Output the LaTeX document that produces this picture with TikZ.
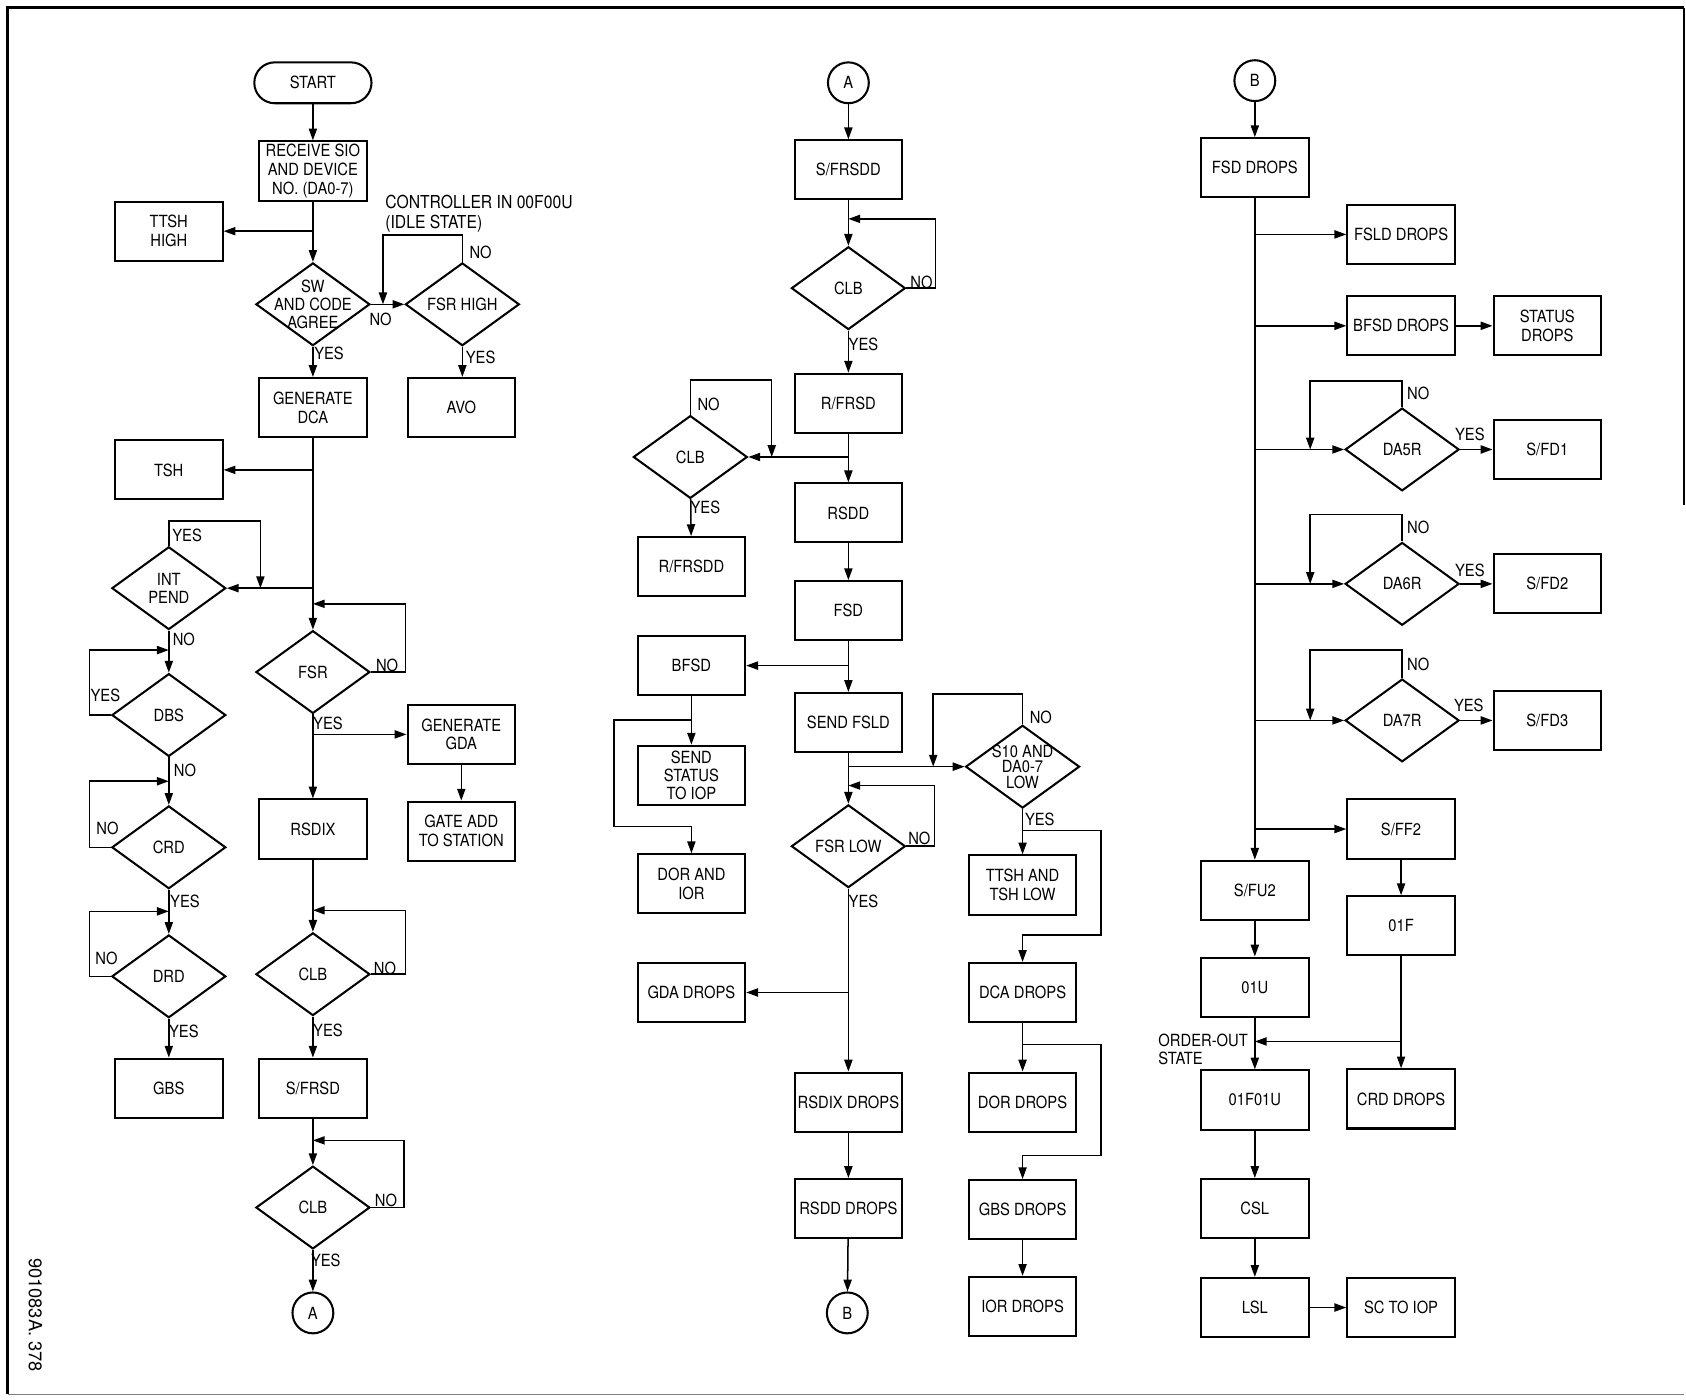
\documentclass[tikz,border=0pt]{standalone}
\usepackage{fontspec}
\setmainfont{TeX Gyre Heros}[FakeStretch=0.88]
\newfontfamily\numfont{TeX Gyre Heros}
\usetikzlibrary{shapes.geometric,arrows.meta,calc}
\begin{document}
\begin{tikzpicture}[x=0.5pt,y=-0.5pt,
  every node/.style={font=\fontsize{7.8}{8.7}\selectfont},
  box/.style={draw,line width=0.95pt,minimum width=50pt,minimum height=27.5pt,align=center,inner sep=1pt},
  dia/.style={draw,diamond,line width=0.95pt,minimum width=53pt,minimum height=38.5pt,inner sep=0pt},
  dt/.style={align=center,inner sep=0pt,font=\fontsize{7.8}{8.4}\selectfont},
  conn/.style={draw,circle,line width=0.95pt,minimum size=19pt,inner sep=0pt},
  term/.style={draw,rounded corners=9.5pt,line width=0.95pt,minimum width=54.5pt,minimum height=19pt},
  lbl/.style={inner sep=0pt},
  ln/.style={draw,line width=0.7pt},
  arr/.style={ln,-{Triangle[length=5.5pt,width=3.8pt]}},
]
\useasboundingbox (0,0) rectangle (1568,1302);
% frame
\draw[line width=1.3pt] (7,1296) -- (7,7) -- (1566,7);
\draw[line width=0.9pt] (1566,7) -- (1566,470);
\draw[gray,line width=0.8pt] (7,1297) -- (1566,1297);
\node[rotate=-90,font=\numfont\fontsize{8.5}{9}\selectfont] (docno) at (33,1223) {901083A. 378};

% ---------- column 1 ----------
\node[term] (start) at (291,77) {START};
\node[box] (recv) at (291,159) {RECEIVE SIO\\AND DEVICE\\NO. (DA0-7)};
\node[box] (ttsh) at (157,215) {TTSH\\HIGH};
\node[dia,label={[dt]center:SW\\AND CODE\\AGREE}] (sw) at (291,283) {};
\node[dia,label={[dt]center:FSR HIGH}] (fsrh) at (430,283) {};
\node[lbl,align=left,anchor=west,font=\fontsize{8.3}{9.2}\selectfont] (ctrl) at (358,199) {CONTROLLER IN 00F00U\\(IDLE STATE)};
\node[box] (avo) at (429,379) {AVO};
\node[box] (gdca) at (291,379) {GENERATE\\DCA};
\node[box] (tsh) at (157,437) {TSH};
\node[dia,label={[dt]center:INT\\PEND}] (intp) at (157,547) {};
\node[dia,label={[dt]center:FSR}] (fsr) at (291,625) {};
\node[box] (ggda) at (429,683) {GENERATE\\GDA};
\node[box] (gate) at (429,773) {GATE ADD\\TO STATION};
\node[box] (rsdix) at (291,771) {RSDIX};
\node[dia,label={[dt]center:CLB}] (clb1) at (291,906) {};
\node[box] (sfrsd) at (291,1012) {S/FRSD};
\node[dia,label={[dt]center:CLB}] (clb2) at (291,1123) {};
\node[conn] (ca1) at (291,1221) {A};
\node[dia,label={[dt]center:DBS}] (dbs) at (157,665) {};
\node[dia,label={[dt]center:CRD}] (crd) at (157,788) {};
\node[dia,label={[dt]center:DRD}] (drd) at (157,908) {};
\node[box] (gbs) at (157,1012) {GBS};

\draw[arr] (start) -- (recv);
\draw[arr] (recv) -- (sw);
\draw[arr] (recv.south |- ttsh.east) -- (ttsh.east);
\draw[arr] (sw.east) -- (fsrh.west);
\draw[arr] (fsrh.north) -- ++(0,-25) -| ($(sw.east)!0.36!(fsrh.west)$);
\draw[arr] (sw.south) -- (gdca.north);
\draw[arr] (fsrh.south) -- (fsrh.south |- avo.north);
\draw[arr] (gdca.south) -- (fsr.north);
\draw[arr] (gdca.south |- tsh.east) -- (tsh.east);
\draw[arr] (gdca.south |- intp.east) -- (intp.east);
\draw[arr] (intp.north) -- ++(0,-23) -| ($(intp.east)!0.39!(gdca.south |- intp.east)$);
\draw[arr] (fsr.east) -- ++(32,0) |- ($(fsr.north)+(0,-24)$);
\draw[arr] (fsr.south) -- (rsdix.north);
\draw[arr] (fsr.south |- ggda.west) -- (ggda.west);
\draw[arr] (ggda) -- (gate);
\draw[arr] (rsdix) -- (clb1);
\draw[arr] (clb1.east) -- ++(32,0) |- ($(clb1.north)+(0,-20)$);
\draw[arr] (clb1) -- (sfrsd);
\draw[arr] (sfrsd) -- (clb2);
\draw[arr] (clb2.east) -- ++(31,0) |- ($(clb2.north)+(0,-23)$);
\draw[arr] (clb2) -- (ca1);
\draw[arr] (intp) -- (dbs);
\draw[arr] (dbs.west) -- ++(-20,0) |- ($(dbs.north)+(0,-21)$);
\draw[arr] (dbs) -- (crd);
\draw[arr] (crd.west) -- ++(-20,0) |- ($(crd.north)+(0,-22)$);
\draw[arr] (crd) -- (drd);
\draw[arr] (drd.west) -- ++(-20,0) |- ($(drd.north)+(0,-21)$);
\draw[arr] (drd) -- (gbs);

\node[lbl] (l1) at (354,297) {NO};
\node[lbl] (l2) at (447,235) {NO};
\node[lbl] (l3) at (447,332) {YES};
\node[lbl] (l4) at (306,329) {YES};
\node[lbl] (l5) at (174,498) {YES};
\node[lbl] (l6) at (171,595) {NO};
\node[lbl] (l7) at (98,647) {YES};
\node[lbl] (l8) at (172,716) {NO};
\node[lbl] (l9) at (100,770) {NO};
\node[lbl] (l10) at (172,838) {YES};
\node[lbl] (l11) at (99,891) {NO};
\node[lbl] (l12) at (171,959) {YES};
\node[lbl] (l13) at (360,619) {NO};
\node[lbl] (l14) at (305,673) {YES};
\node[lbl] (l15) at (358,901) {NO};
\node[lbl] (l16) at (305,958) {YES};
\node[lbl] (l17) at (359,1116) {NO};
\node[lbl] (l18) at (303,1172) {YES};

% ---------- column 2 ----------
\node[conn] (ca2) at (789,77) {A};
\node[box] (sfrsdd) at (789,158) {S/FRSDD};
\node[dia,label={[dt]center:CLB}] (clb3) at (789,268) {};
\node[box] (rfrsd) at (789,375) {R/FRSD};
\node[dia,label={[dt]center:CLB}] (clb4) at (642,425) {};
\node[box] (rfrsdd) at (643,527) {R/FRSDD};
\node[box] (rsdd) at (789,477) {RSDD};
\node[box] (fsd) at (789,568) {FSD};
\node[box] (bfsd) at (643,619) {BFSD};
\node[box] (sfsld) at (789,672) {SEND FSLD};
\node[box,font=\fontsize{7.8}{8.4}\selectfont] (sstat) at (643,721) {SEND\\STATUS\\TO IOP};
\node[box] (dorior) at (643,822) {DOR AND\\IOR};
\node[dia,label={[dt,font=\fontsize{7.8}{7.3}\selectfont]center:S10 AND\\DA0-7\\LOW}] (s10) at (951,713) {};
\node[dia,label={[dt]center:FSR LOW}] (fsrl) at (789,787) {};
\node[box] (ttshl) at (951,823) {TTSH AND\\TSH LOW};
\node[box] (gdad) at (643,923) {GDA DROPS};
\node[box] (dcad) at (951,923) {DCA DROPS};
\node[box] (rsdixd) at (789,1025) {RSDIX DROPS};
\node[box] (dord) at (951,1025) {DOR DROPS};
\node[box] (rsddd) at (789,1124) {RSDD DROPS};
\node[box] (gbsd) at (951,1125) {GBS DROPS};
\node[conn] (cb1) at (788,1221) {B};
\node[box] (iord) at (951,1215) {IOR DROPS};

\draw[arr] (ca2) -- (sfrsdd);
\draw[arr] (sfrsdd) -- (clb3);
\draw[arr] (clb3.east) -- ++(27,0) |- ($(clb3.north)+(0,-25)$);
\draw[arr] (clb3) -- (rfrsd);
\draw[arr] (rfrsd) -- (rsdd);
\draw[arr] (rfrsd.south |- clb4.east) -- (clb4.east);
\draw[arr] (clb4.north) -- ++(0,-32) -| ($(clb4.east)!0.234!(rfrsd.south |- clb4.east)$);
\draw[arr] (clb4) -- (rfrsdd);
\draw[arr] (rsdd) -- (fsd);
\draw[arr] (fsd) -- (sfsld);
\draw[arr] (fsd.south |- bfsd.east) -- (bfsd.east);
\draw[arr] (bfsd) -- (sstat);
\draw[arr] ($(bfsd.south)+(0,22)$) -- ++(-72,0) |- ($(dorior.north)+(0,-25)$) -- (dorior.north);
\draw[arr] (sfsld) -- (fsrl);
\draw[arr] (sfsld.south |- s10.west) -- (s10.west);
\draw[arr] (s10.north) -- ++(0,-28) -| ($(sfsld.south |- s10.west)!0.73!(s10.west)$);
\draw[arr] (fsrl.east) -- ++(26,0) |- ($(fsrl.north)+(0,-17)$);
\draw[arr] (fsrl) -- (rsdixd);
\draw[arr] (fsrl.south |- gdad.east) -- (gdad.east);
\draw[arr] (rsdixd) -- (rsddd);
\draw[arr] (rsddd) -- (cb1);
\draw[arr] (s10) -- (ttshl);
\draw[arr] ($(s10.south)+(0,20)$) -- ++(73,0) |- ($(dcad.north)+(0,-25)$) -- (dcad.north);
\draw[arr] (dcad) -- (dord);
\draw[arr] ($(dcad.south)+(0,20)$) -- ++(73,0) |- ($(gbsd.north)+(0,-22)$) -- (gbsd.north);
\draw[arr] (gbsd) -- (iord);

\node[lbl] (m1) at (857,263) {NO};
\node[lbl] (m2) at (803,320) {YES};
\node[lbl] (m3) at (659,376) {NO};
\node[lbl] (m4) at (656,472) {YES};
\node[lbl] (m5) at (968,667) {NO};
\node[lbl] (m6) at (967,762) {YES};
\node[lbl] (m7) at (855,780) {NO};
\node[lbl] (m8) at (803,838) {YES};

% ---------- column 3 ----------
\node[conn] (cb2) at (1167,75) {B};
\node[box] (fsdd) at (1167,156) {FSD DROPS};
\node[box] (fsldd) at (1303,218) {FSLD DROPS};
\node[box] (bfsdd) at (1303,303) {BFSD DROPS};
\node[box] (statd) at (1439,303) {STATUS\\DROPS};
\node[dia,label={[dt]center:DA5R}] (da5) at (1304,418) {};
\node[box] (sfd1) at (1439,418) {S/FD1};
\node[dia,label={[dt]center:DA6R}] (da6) at (1304,543) {};
\node[box] (sfd2) at (1439,543) {S/FD2};
\node[dia,label={[dt]center:DA7R}] (da7) at (1304,670) {};
\node[box] (sfd3) at (1439,670) {S/FD3};
\node[box] (sff2) at (1303,771) {S/FF2};
\node[box] (sfu2) at (1167,828) {S/FU2};
\node[box] (o1u) at (1167,918) {01U};
\node[box] (o1f) at (1303,861) {01F};
\node[box] (o1f1u) at (1167,1023) {01F01U};
\node[box] (crdd) at (1303,1022) {CRD DROPS};
\node[box] (csl) at (1167,1124) {CSL};
\node[box] (lsl) at (1167,1216) {LSL};
\node[box] (sciop) at (1303,1216) {SC TO IOP};
\node[lbl,align=left,anchor=west] (oos) at (1077,976) {ORDER-OUT\\STATE};

\draw[arr] (cb2) -- (fsdd);
\draw[arr] (fsdd) -- (sfu2);
\draw[arr] (fsdd.south |- fsldd.west) -- (fsldd.west);
\draw[arr] (fsdd.south |- bfsdd.west) -- (bfsdd.west);
\draw[arr] (bfsdd) -- (statd);
\draw[arr] (fsdd.south |- da5.west) -- (da5.west);
\draw[arr] (da5.east) -- (sfd1.west);
\draw[arr] (da5.north) -- ++(0,-24) -| ($(fsdd.south |- da5.west)!0.62!(da5.west)$);
\draw[arr] (fsdd.south |- da6.west) -- (da6.west);
\draw[arr] (da6.east) -- (sfd2.west);
\draw[arr] (da6.north) -- ++(0,-25) -| ($(fsdd.south |- da6.west)!0.62!(da6.west)$);
\draw[arr] (fsdd.south |- da7.west) -- (da7.west);
\draw[arr] (da7.east) -- (sfd3.west);
\draw[arr] (da7.north) -- ++(0,-26) -| ($(fsdd.south |- da7.west)!0.62!(da7.west)$);
\draw[arr] (fsdd.south |- sff2.west) -- (sff2.west);
\draw[arr] (sff2) -- (o1f);
\draw[arr] (sfu2) -- (o1u);
\draw[arr] (o1u) -- (o1f1u);
\draw[arr] (o1f) -- (crdd);
\draw[arr] ($(crdd.north)+(0,-25)$) -- ($(o1f1u.north)+(0,-26)$);
\draw[arr] (o1f1u) -- (csl);
\draw[arr] (csl) -- (lsl);
\draw[arr] (lsl) -- (sciop);

\node[lbl] (r1) at (1319,366) {NO};
\node[lbl] (r2) at (1367,404) {YES};
\node[lbl] (r3) at (1319,490) {NO};
\node[lbl] (r4) at (1367,530) {YES};
\node[lbl] (r5) at (1319,618) {NO};
\node[lbl] (r6) at (1366,656) {YES};
\end{tikzpicture}
\end{document}
